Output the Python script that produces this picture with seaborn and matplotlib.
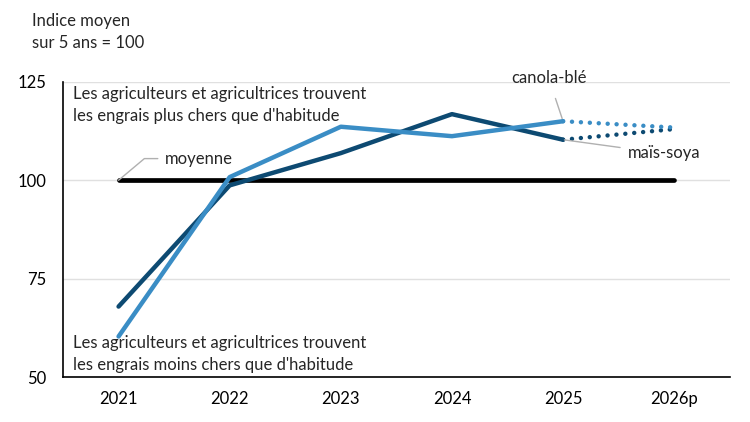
import matplotlib
matplotlib.use("Agg")
import matplotlib.pyplot as plt
import seaborn as sns
import pandas as pd

years = ["2021", "2022", "2023", "2024", "2025", "2026p"]
mais_soya = [67.9, 98.7, 106.9, 116.8, 110.3, 113.0]
canola_ble = [60.3, 100.8, 113.6, 111.2, 115.0, 113.4]
moyenne = [100, 100, 100, 100, 100, 100]
yticks = [50, 75, 100, 125]

sns.set_theme(style="white")
plt.rcParams['font.family'] = ['Lato', 'DejaVu Sans']

dark = "#0d4a72"
light = "#3a8dc5"

x = list(range(len(years)))
df = pd.DataFrame({"x": x, "ms": mais_soya, "cb": canola_ble, "moy": moyenne})
hist = df[df.x <= 4]
proj = df[df.x >= 4]

fig = plt.figure(figsize=(7.5, 4.22), dpi=100)
ax = fig.add_axes([0.084, 0.1066, 0.889, 0.6994])

ax.grid(axis="y", color="#e0e0e0", lw=1)
ax.set_axisbelow(True)

dots = (0, (0.01, 2.0))
sns.lineplot(data=df, x="x", y="moy", ax=ax, color="black", lw=3.4, zorder=2)
sns.lineplot(data=hist, x="x", y="ms", ax=ax, color=dark, lw=3.2, zorder=3)
sns.lineplot(data=hist, x="x", y="cb", ax=ax, color=light, lw=3.2, zorder=4)
sns.lineplot(data=proj, x="x", y="ms", ax=ax, color=dark, lw=3.2, ls=dots,
             dash_capstyle="round", zorder=3)
sns.lineplot(data=proj, x="x", y="cb", ax=ax, color=light, lw=3.2, ls=dots,
             dash_capstyle="round", zorder=4)

ax.set_xlim(-0.5, 5.5)
ax.set_ylim(50, 125)
ax.set_xticks(x)
ax.set_xticklabels(years)
ax.set_yticks(yticks)
ax.set_xlabel("")
ax.set_ylabel("")
fs = 12
ax.tick_params(axis="both", labelsize=fs, colors="black", length=0)
ax.tick_params(axis="x", pad=10)
ax.tick_params(axis="y", pad=12)
for s in ["top", "right"]:
    ax.spines[s].set_visible(False)
for s in ["left", "bottom"]:
    ax.spines[s].set_color("black")
    ax.spines[s].set_linewidth(1.2)

ax.text(0.015, 0.985, "Les agriculteurs et agricultrices trouvent\nles engrais plus chers que d'habitude",
        transform=ax.transAxes, ha="left", va="top", fontsize=fs, linespacing=1.45)
ax.text(0.015, 0.015, "Les agriculteurs et agricultrices trouvent\nles engrais moins chers que d'habitude",
        transform=ax.transAxes, ha="left", va="bottom", fontsize=fs, linespacing=1.45)

ax.annotate("moyenne", xy=(0, 100), xytext=(0.42, 105.5), fontsize=fs, va="center", ha="left",
            arrowprops=dict(arrowstyle="-", color="#b0b0b0", lw=1,
                            connectionstyle="angle,angleA=0,angleB=40,rad=0", shrinkA=3, shrinkB=0))
ax.annotate("canola-blé", xy=(4, canola_ble[4]), xytext=(3.87, 126),
            fontsize=fs, va="center", ha="center",
            arrowprops=dict(arrowstyle="-", color="#b0b0b0", lw=1, shrinkA=7, shrinkB=2))
ax.annotate("maïs-soya", xy=(4, mais_soya[4]), xytext=(4.58, 106.8),
            fontsize=fs, va="center", ha="left",
            arrowprops=dict(arrowstyle="-", color="#b0b0b0", lw=1, shrinkA=3, shrinkB=1))

fig.text(32 / 750, 1 - 32 / 422, "Indice moyen\nsur 5 ans = 100", ha="left", va="center",
         fontsize=fs, linespacing=1.45)

fig.savefig("out.png", dpi=100)
